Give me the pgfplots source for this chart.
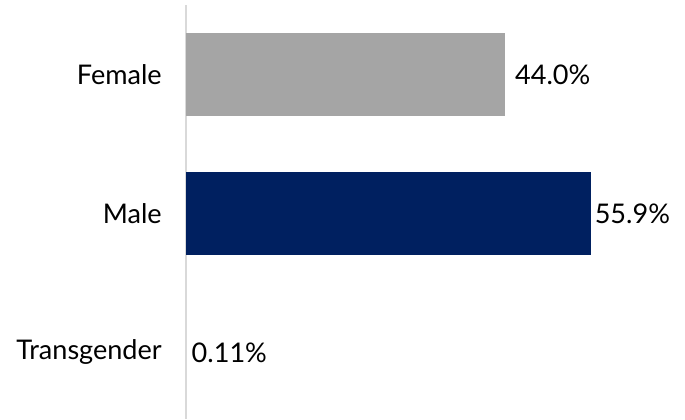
\documentclass[border=0pt]{standalone}
\usepackage{fontspec}
\setmainfont{Lato}
\usepackage{pgfplots}
\pgfplotsset{compat=1.18}
\definecolor{femalegray}{HTML}{A5A5A5}
\definecolor{malenavy}{HTML}{002060}
\definecolor{axisgray}{HTML}{D9D9D9}
\begin{document}
\fontsize{20.3}{24}\selectfont
\begin{tikzpicture}
\begin{axis}[
    xbar,
    scale only axis,
    width=374pt,
    height=310.1pt,
    xmin=0, xmax=68.8,
    ymin=-0.475, ymax=2.5,
    bar width=0.6,
    bar shift=0pt,
    axis x line=none,
    axis y line*=left,
    y axis line style={draw=axisgray, line width=1.1pt, -},
    ytick={0,1,2},
    yticklabels={Transgender,Male,Female},
    major tick length=0pt,
    yticklabel style={inner sep=0pt, xshift=-18pt, font=\fontsize{20.3}{24}\selectfont},
    clip=false,
    nodes near coords style={anchor=west, inner sep=0pt, font=\fontsize{20.3}{24}\selectfont},
]
\addplot[fill=femalegray, draw=none, nodes near coords={44.0\%},
    nodes near coords style={xshift=7.5pt}] coordinates {(44.0,2)};
\addplot[fill=malenavy, draw=none, nodes near coords={55.9\%},
    nodes near coords style={xshift=2.5pt}] coordinates {(55.9,1)};
\addplot[fill=axisgray, draw=none, nodes near coords={0.11\%},
    nodes near coords style={xshift=3.5pt}] coordinates {(0.11,0)};
\end{axis}
\pgfresetboundingbox
\path[use as bounding box] (current axis.south west) ++(-139.5pt,-0.375pt) rectangle ++(513.75pt,314.25pt);
\end{tikzpicture}
\end{document}
